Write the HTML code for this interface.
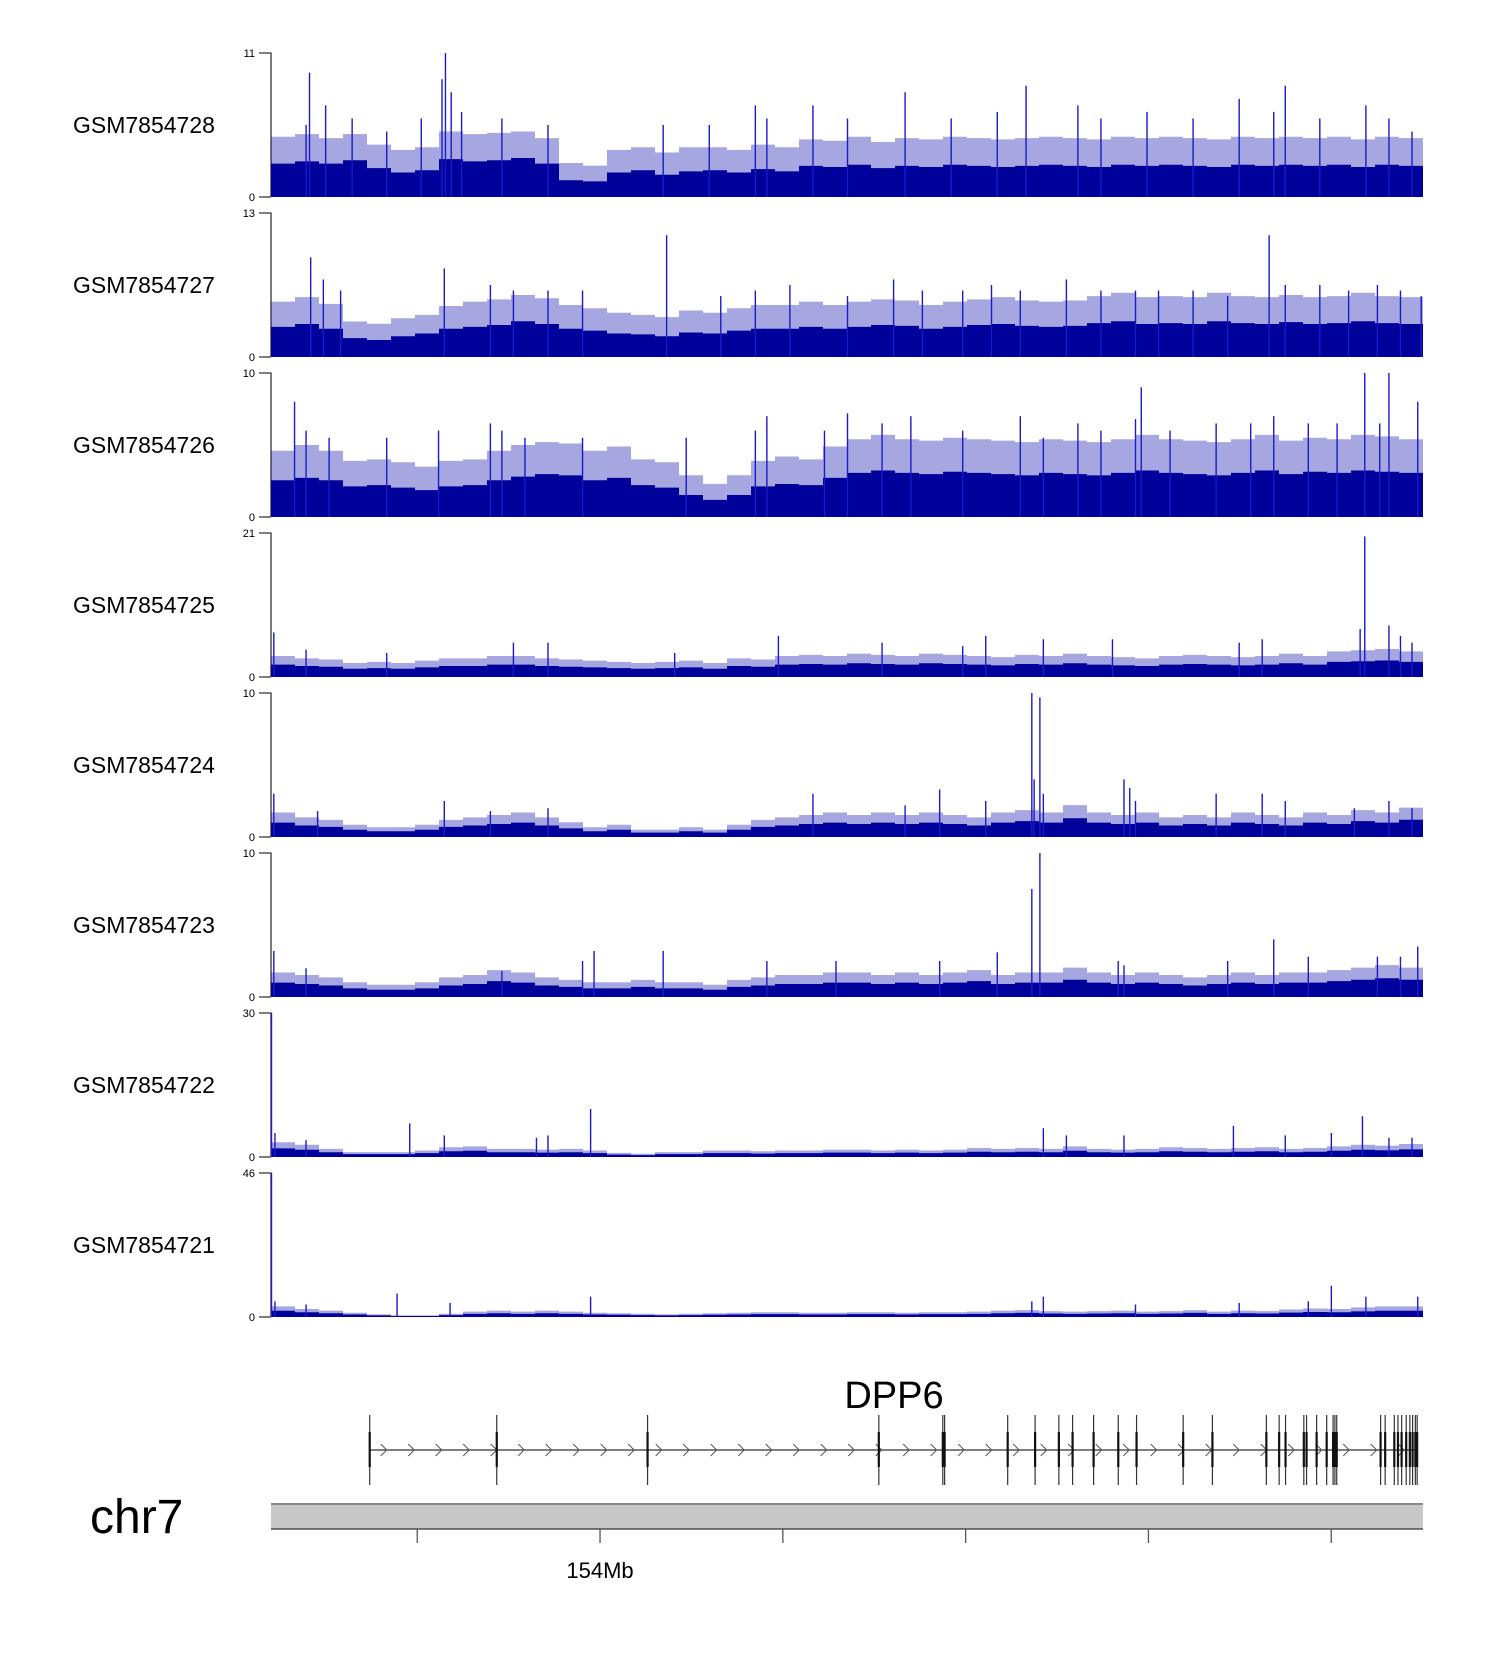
<!DOCTYPE html>
<html><head><meta charset="utf-8"><style>
html,body{margin:0;padding:0;background:#fff;}
svg{display:block;font-family:"Liberation Sans",sans-serif;}
</style></head><body>
<svg id="fig" width="1500" height="1660" viewBox="0 0 1500 1660" xmlns="http://www.w3.org/2000/svg"></svg>
<script>
const sampleNames = ["GSM7854728","GSM7854727","GSM7854726","GSM7854725","GSM7854724","GSM7854723","GSM7854722","GSM7854721"];
const yMax = [11,13,10,21,10,10,30,46];
const base1 = [3,3.2,3,3.3,2.6,2.2,2.4,3.4,3.2,3.3,3.5,3,1.5,1.4,2.2,2.4,2,2.3,2.4,2.2,2.5,2.3,2.8,2.7,2.9,2.6,2.8,2.7,2.9,2.8,2.7,2.8,2.9,2.8,2.7,2.9,2.8,2.9,2.8,2.7,2.9,2.8,2.9,2.8,2.9,2.7,2.9,2.8];
const base2 = [3.2,3.5,3,2,1.8,2.2,2.5,3,3.2,3.4,3.8,3.5,3,2.8,2.5,2.4,2.2,2.6,2.5,2.8,3,3,3.2,3,3.2,3.4,3.3,3,3.2,3.4,3.5,3.3,3.2,3.3,3.6,3.8,3.5,3.6,3.5,3.8,3.6,3.5,3.7,3.5,3.6,3.8,3.6,3.5];
const base3 = [3,3.2,3,2.5,2.6,2.4,2.2,2.5,2.6,3,3.3,3.5,3.4,3,3.2,2.6,2.4,1.8,1.4,1.8,2.5,2.7,2.6,3.2,3.6,3.8,3.6,3.5,3.7,3.6,3.5,3.4,3.6,3.5,3.4,3.6,3.8,3.6,3.5,3.4,3.6,3.8,3.5,3.7,3.6,3.8,3.7,3.6];
const base4 = [1.8,1.6,1.5,1.2,1.3,1.2,1.4,1.6,1.6,1.8,1.8,1.6,1.5,1.4,1.3,1.2,1.3,1.4,1.2,1.6,1.5,1.8,1.9,1.8,2,1.9,1.8,2,1.9,1.8,1.7,1.9,1.8,2,1.8,1.7,1.6,1.8,1.9,1.8,1.7,1.8,2,1.8,2.2,2.3,2.4,2.2];
const base5 = [1,0.8,0.7,0.5,0.4,0.4,0.5,0.7,0.8,0.9,1,0.8,0.6,0.4,0.5,0.3,0.3,0.4,0.3,0.5,0.7,0.8,0.9,1,0.9,1,0.9,1,0.9,0.8,1,1.1,1,1.3,1,0.9,1,0.8,0.9,0.8,1,0.9,0.8,1,0.9,1.1,1,1.2];
const base6 = [1,0.9,0.8,0.6,0.5,0.5,0.6,0.8,0.9,1.1,1,0.8,0.7,0.6,0.6,0.7,0.6,0.6,0.5,0.7,0.8,0.9,0.9,1,1,0.9,1,0.9,1,1.1,0.9,1,1,1.2,1,0.9,1,0.9,0.8,0.9,1,0.9,1,1,1.1,1.2,1.3,1.2];
const base7 = [1.8,1.5,1,0.6,0.6,0.6,0.8,1.2,1.3,1,1,0.9,1,0.8,0.5,0.4,0.6,0.6,0.8,0.8,0.7,0.8,0.8,0.9,0.9,0.8,0.9,0.8,0.9,1.1,1,1.1,1,1.3,1,0.9,1,1.2,1.1,1,1.1,1.2,1,1.1,1.3,1.5,1.4,1.6];
const base8 = [2,1.5,1.2,0.8,0.5,0.3,0.3,0.6,1,1.2,1,1.2,1,0.8,0.7,0.6,0.5,0.6,0.7,0.8,0.9,0.9,0.8,0.8,0.9,0.9,0.8,0.9,0.9,1,1.2,1.3,1.1,1,1.1,1.2,1,1.1,1.3,1,1.2,1.1,1.4,1.6,1.5,1.8,2,2];
const env1 = [4.6,4.8,4.5,4.8,4,3.6,3.8,5,4.8,4.9,5,4.5,2.6,2.4,3.6,3.8,3.4,3.8,3.8,3.6,4,3.8,4.4,4.3,4.6,4.2,4.5,4.4,4.6,4.5,4.4,4.5,4.6,4.5,4.4,4.6,4.5,4.6,4.5,4.4,4.6,4.5,4.6,4.5,4.6,4.4,4.6,4.5];
const env2 = [5,5.4,4.8,3.2,3,3.5,3.8,4.6,5,5.2,5.6,5.3,4.7,4.4,4,3.8,3.6,4.2,4,4.4,4.7,4.7,5,4.7,5,5.2,5.1,4.7,5,5.2,5.4,5.1,5,5.1,5.5,5.8,5.4,5.5,5.4,5.8,5.5,5.4,5.6,5.4,5.5,5.8,5.5,5.4];
const env3 = [4.6,5,4.6,3.9,4,3.8,3.5,3.9,4,4.6,5,5.2,5.1,4.6,4.9,4,3.8,2.9,2.3,2.9,3.9,4.2,4,4.9,5.4,5.7,5.4,5.3,5.5,5.4,5.3,5.2,5.4,5.3,5.2,5.4,5.7,5.4,5.3,5.2,5.4,5.7,5.3,5.5,5.4,5.7,5.6,5.4];
const peaks1 = [[0.03,5.5],[0.033,9.5],[0.047,7],[0.07,6],[0.10,5],[0.13,6],[0.151,11],[0.148,9],[0.156,8],[0.165,6.5],[0.2,6],[0.24,5.5],[0.34,5.5],[0.38,5.5],[0.42,7],[0.43,6],[0.47,7],[0.5,6],[0.55,8],[0.59,6],[0.63,6.5],[0.655,8.5],[0.70,7],[0.72,6],[0.76,6.5],[0.8,6],[0.84,7.5],[0.87,6.5],[0.88,8.5],[0.91,6],[0.95,7],[0.97,6],[0.99,5]];
const peaks2 = [[0.034,9],[0.045,7],[0.06,6],[0.15,8],[0.19,6.5],[0.21,6],[0.24,6],[0.27,6],[0.343,11],[0.39,5.5],[0.42,6],[0.45,6.5],[0.5,5.5],[0.54,7],[0.565,6],[0.6,6],[0.625,6.5],[0.65,6],[0.69,7],[0.72,6],[0.75,6],[0.77,6],[0.80,6],[0.83,5.5],[0.866,11],[0.88,6.5],[0.91,6.5],[0.935,6],[0.96,6.5],[0.98,6],[0.998,5.5]];
const peaks3 = [[0.02,8],[0.03,6],[0.05,5.5],[0.1,5.5],[0.145,6],[0.19,6.5],[0.2,6],[0.22,5.5],[0.27,5.5],[0.36,5.5],[0.42,6],[0.43,7],[0.48,6],[0.5,7.2],[0.53,6.5],[0.555,7],[0.6,6],[0.65,7],[0.67,5.5],[0.7,6.5],[0.72,6],[0.75,6.8],[0.755,9],[0.78,6],[0.82,6.5],[0.85,6.5],[0.87,7],[0.90,6.5],[0.925,6.5],[0.949,10],[0.97,10],[0.962,6.5],[0.995,8]];
const peaks4 = [[0.002,6.5],[0.03,4],[0.1,3.5],[0.21,5],[0.24,5],[0.35,3.5],[0.44,6],[0.53,5],[0.6,4.5],[0.62,6],[0.67,5.5],[0.73,5.5],[0.84,5],[0.86,5.5],[0.949,20.5],[0.945,7],[0.97,7.5],[0.98,6],[0.99,5]];
const peaks5 = [[0.002,3],[0.04,1.8],[0.15,2.5],[0.19,1.8],[0.24,2],[0.47,3],[0.58,3.3],[0.55,2.2],[0.62,2.5],[0.66,10],[0.667,9.7],[0.662,4],[0.67,3],[0.74,4],[0.745,3.4],[0.75,2.5],[0.82,3],[0.86,3],[0.88,2.5],[0.94,2],[0.97,2.5],[0.99,2]];
const peaks6 = [[0.002,3.2],[0.03,2],[0.2,1.8],[0.27,2.5],[0.28,3.2],[0.34,3.2],[0.43,2.5],[0.49,2.5],[0.58,2.5],[0.63,3.1],[0.66,7.5],[0.667,10],[0.735,2.5],[0.74,2.2],[0.83,2.5],[0.87,4],[0.9,2.8],[0.96,2.8],[0.98,2.8],[0.995,3.5]];
const peaks7 = [[0.0,30],[0.003,5],[0.03,3.5],[0.12,7],[0.15,4.5],[0.23,4],[0.24,4.5],[0.277,10],[0.67,6],[0.69,4.5],[0.74,4.5],[0.835,6.5],[0.88,4.5],[0.92,5],[0.947,8.5],[0.97,4],[0.99,4]];
const peaks8 = [[0.0,46],[0.003,5],[0.03,4],[0.109,7.5],[0.155,4.5],[0.277,6.5],[0.66,5],[0.67,6.5],[0.75,4],[0.84,4.5],[0.9,5],[0.92,10],[0.95,6.5],[0.995,6.5]];
const exonStarts = [153.748,153.887,154.052,154.305,154.375,154.377,154.446,154.476,154.502,154.517,154.540,154.567,154.587,154.638,154.670,154.729,154.743,154.750,154.770,154.773,154.784,154.795,154.802,154.804,154.806,154.854,154.859,154.869,154.873,154.877,154.882,154.886,154.889,154.892,154.894];
const geneStart = 153.748, geneEnd = 154.894;
const axisTicks = [153.8,154.0,154.2,154.4,154.6,154.8];
const axisLabels = [["154Mb",154.0]];

const bases=[base1,base2,base3,base4,base5,base6,base7,base8];
const envs=[env1,env2,env3,null,null,null,null,null];
const peaks=[peaks1,peaks2,peaks3,peaks4,peaks5,peaks6,peaks7,peaks8];
const NS="http://www.w3.org/2000/svg";
const svg=document.getElementById('fig');
const X0=271,X1=1423;
function xf(f){return X0+f*(X1-X0);}
const MB0=153.640, PXMB=914;
function xMb(m){return X0+(m-MB0)*PXMB;}
function mk(t,a,p){const e=document.createElementNS(NS,t);for(const k in a)e.setAttribute(k,a[k]);(p||svg).appendChild(e);return e;}
function stepPath(arr,yv,bot,scale){
  const n=arr.length;let d=`M${X0} ${bot}`;
  for(let k=0;k<n;k++){const xa=xf(k/n),xb=xf((k+1)/n),y=yv(arr[k]*scale);d+=`L${xa} ${y}L${xb} ${y}`;}
  return d+`L${X1} ${bot}Z`;
}

for(let i=0;i<8;i++){
  const top=53+160*i, bot=top+144, H=144;
  const yv=v=>bot-Math.min(v,yMax[i])/yMax[i]*H;
  const g=mk('g',{});
  
  
  const lab=mk('text',{x:73,y:(top+bot)/2+8,'font-size':23,fill:'#000'},g);
  lab.textContent=sampleNames[i];
  
  
  const ax=mk('path',{d:`M259 ${top}H${X0}V${bot}M259 ${bot}H${X0}`,stroke:'#333',fill:'none','stroke-width':1.3},g);
  
  
  const t1=mk('text',{x:255,y:top+4,'font-size':11,'text-anchor':'end'},g);t1.textContent=yMax[i];
  
  
  const t0=mk('text',{x:255,y:bot+4,'font-size':11,'text-anchor':'end'},g);t0.textContent='0';
  
  
  const env=envs[i]||bases[i];
  const envScale=envs[i]?1:1.7;
  const ea=mk('path',{d:stepPath(env,yv,bot,envScale),fill:'#0000a8','fill-opacity':0.35},g);
  
  
  const area=mk('path',{d:stepPath(bases[i],yv,bot,envs[i]?0.85:1),fill:'#00009a'},g);
  
  
  peaks[i].forEach(p=>{
    const x=xf(p[0])+0.5;
    const l=mk('line',{x1:x,x2:x,y1:bot,y2:yv(p[1]),stroke:'#1a1ac8','stroke-width':1.4},g);
    
    
  });
}
// gene track
const gg=mk('g',{});


const gl=mk('text',{x:894,y:1408,'font-size':38,'text-anchor':'middle'},gg);gl.textContent='DPP6';


const gline=mk('line',{x1:xMb(geneStart),x2:xMb(geneEnd),y1:1450,y2:1450,stroke:'#333','stroke-width':1.3},gg);


for(let x=xMb(geneStart)+14;x<xMb(geneEnd)-8;x+=27.5){
  const c=mk('path',{d:`M${x-3} ${1444}L${x+3} ${1450}L${x-3} ${1456}`,stroke:'#555',fill:'none','stroke-width':1},gg);
  
  
}
exonStarts.forEach(m=>{
  const x=xMb(m);
  const e=mk('line',{x1:x,x2:x,y1:1415,y2:1485,stroke:'#333','stroke-width':1.2},gg);
  
  
  const e2=mk('line',{x1:x,x2:x,y1:1432,y2:1467,stroke:'#111','stroke-width':2.2},gg);
  
  
});
// ideogram
const ig=mk('g',{});


const chr=mk('text',{x:90,y:1533,'font-size':48},ig);chr.textContent='chr7';


const bar=mk('rect',{x:X0,y:1503,width:X1-X0,height:26,fill:'#c8c8c8'},ig);


mk('line',{x1:X0,x2:X1,y1:1504,y2:1504,stroke:'#888','stroke-width':2},ig);
mk('line',{x1:X0,x2:X1,y1:1529,y2:1529,stroke:'#333','stroke-width':1.3},ig);
axisTicks.forEach(m=>{
  const t=mk('line',{x1:xMb(m),x2:xMb(m),y1:1529,y2:1543,stroke:'#555','stroke-width':1.3},ig);
  
  
});
axisLabels.forEach(a=>{
  const t=mk('text',{x:xMb(a[1]),y:1586-8,'font-size':22,'text-anchor':'middle'},ig);t.textContent=a[0];
  
  
});
</script>
</body></html>
